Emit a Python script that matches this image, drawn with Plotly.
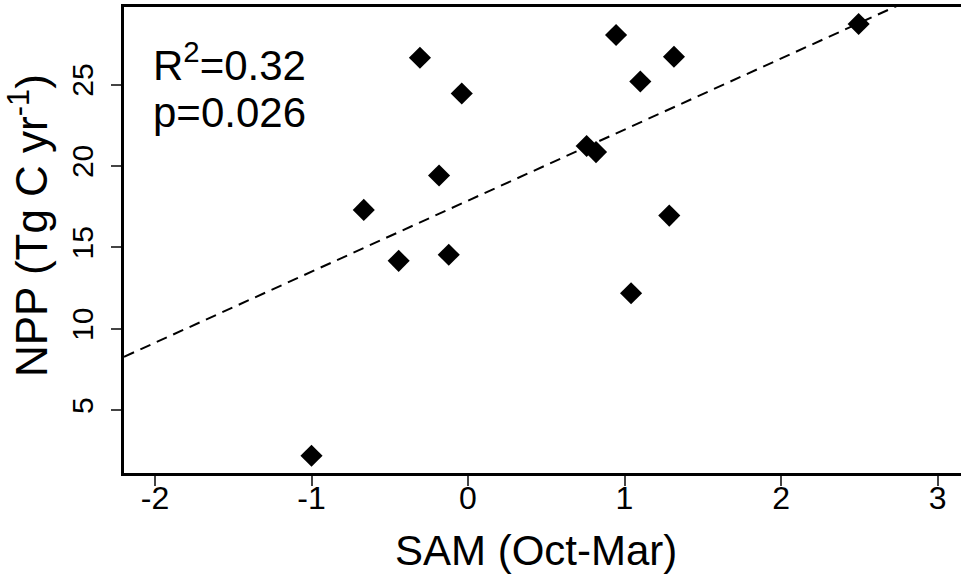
import numpy as np
import plotly.graph_objects as go

# SAM index (Oct-Mar) and net primary production (Tg C / yr)
sam = [-1.00, -0.666, -0.443, -0.307, -0.185, -0.123, -0.040, 0.758, 0.818,
       0.946, 1.042, 1.101, 1.286, 1.316, 2.496]
npp = [2.20, 17.30, 14.17, 26.64, 19.41, 14.54, 24.45, 21.22, 20.85,
       28.04, 12.18, 25.18, 16.95, 26.70, 28.72]

x_ticks = [-2, -1, 0, 1, 2, 3]
y_ticks = [5, 10, 15, 20, 25]
x_range = [-2.198, 3.150]
y_range = [1.14, 29.76]

stats_lines = ["R<sup>2</sup>=0.32", "p=0.026"]
x_title = "SAM (Oct-Mar)"
y_title = "NPP (Tg C yr<sup>-1</sup>)"

FONT = "Liberation Sans, Arial, Helvetica, sans-serif"

# least-squares fit drawn across the full x extent
slope, intercept = np.polyfit(sam, npp, 1)
fit_x = np.array(x_range)
fit_y = intercept + slope * fit_x

fig = go.Figure()
fig.add_trace(go.Scatter(
    x=fit_x, y=fit_y, mode="lines",
    line=dict(color="black", width=2, dash="11px,7px"),
    hoverinfo="skip", showlegend=False,
))
fig.add_trace(go.Scatter(
    x=sam, y=npp, mode="markers",
    marker=dict(symbol="diamond", size=17, color="black", line=dict(width=0)),
    showlegend=False,
))

W, H = 961, 578
ML, MR, MT, MB = 124, 0, 7, 105
pw, ph = W - ML - MR, H - MT - MB


def px(xp):
    return (xp - ML) / pw


def py(yp):
    return (H - MB - yp) / ph


annotations = [
    dict(text=stats_lines[0], x=px(151), y=py(62), xref="paper", yref="paper",
         xanchor="left", yanchor="middle", showarrow=False,
         font=dict(family=FONT, size=42, color="black")),
    dict(text=stats_lines[1], x=px(151), y=py(112), xref="paper", yref="paper",
         xanchor="left", yanchor="middle", showarrow=False,
         font=dict(family=FONT, size=42, color="black")),
    dict(text=x_title, x=px(536), y=py(550), xref="paper", yref="paper",
         xanchor="center", yanchor="middle", showarrow=False,
         font=dict(family=FONT, size=42, color="black")),
    dict(text=y_title, x=px(29), y=py(226), xref="paper", yref="paper",
         xanchor="center", yanchor="middle", showarrow=False, textangle=-90,
         font=dict(family=FONT, size=44, color="black")),
]

fig.update_layout(
    width=W, height=H,
    margin=dict(l=ML, r=MR, t=MT, b=MB, pad=0),
    paper_bgcolor="white", plot_bgcolor="white",
    font=dict(family=FONT, color="black"),
    annotations=annotations,
    xaxis=dict(
        range=x_range, tickvals=x_ticks, ticktext=[str(v) for v in x_ticks],
        showgrid=False, zeroline=False,
        showline=True, linecolor="black", linewidth=2.5, mirror=True,
        ticks="outside", ticklen=10, tickwidth=1.5, tickcolor="#444",
        ticklabelstandoff=-15,
        tickfont=dict(family=FONT, size=32, color="black"),
    ),
    yaxis=dict(
        range=y_range, tickvals=y_ticks, ticktext=[str(v) for v in y_ticks],
        showgrid=False, zeroline=False,
        showline=True, linecolor="black", linewidth=2.5,
        ticks="outside", ticklen=10, tickwidth=1.5, tickcolor="#444",
        tickangle=-90, ticklabelstandoff=6,
        tickfont=dict(family=FONT, size=30, color="black"),
    ),
)

fig.write_html("out.html")
